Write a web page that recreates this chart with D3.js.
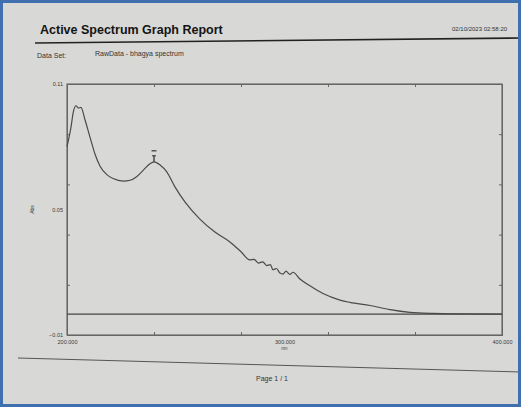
<!DOCTYPE html>
<html>
<head>
<meta charset="utf-8">
<script src="https://cdn.jsdelivr.net/npm/d3@7"></script>
<style>
  html, body { margin: 0; padding: 0; background: #d6d6d4; }
  svg { display: block; }
  .axis path, .axis line { stroke: #666; }
  .axis text { fill: #3a3a3a; font-family: "Liberation Sans", Arial, sans-serif; }
</style>
</head>
<body>
<div id="chart"></div>
<script>
// spectrum (nm / Abs)
var wavelengths = [200, 201.7, 203, 204.1, 205.3, 206.4, 208.3, 210.6, 212.9, 215.2, 218.3, 221.2, 225.9, 229, 232, 235, 238, 240, 242.8, 245.8, 249.7, 254.3, 261.1, 268, 274.9, 280, 284.1, 286, 288, 290, 291.8, 293.5, 294.7, 296.3, 297.9, 299.3, 300.7, 302.5, 303.9, 307.1, 311.7, 317.7, 325.5, 330.1, 339.4, 348.5, 357.7, 368.3, 382, 400];
var absorbance  = [0.080, 0.0885, 0.097, 0.0996, 0.0985, 0.0988, 0.0928, 0.0845, 0.0764, 0.0707, 0.0667, 0.0648, 0.0636, 0.064, 0.0657, 0.0687, 0.0717, 0.0728, 0.0713, 0.0681, 0.0607, 0.0535, 0.0454, 0.0392, 0.0345, 0.0298, 0.0259, 0.0262, 0.0244, 0.0250, 0.0232, 0.0236, 0.0212, 0.0218, 0.0196, 0.0191, 0.0205, 0.019, 0.020, 0.0168, 0.0135, 0.0098, 0.0067, 0.0056, 0.0041, 0.0021, 0.0008, 0.0003, 0.0001, 0.0];

var xMinorTicks = [200, 240, 280, 320, 360, 400];
var xLabelTicks = [200, 300, 400];
var yMinorTicks = [-0.01, 0.014, 0.038, 0.062, 0.086, 0.11];
var yLabelTicks = [-0.01, 0.05, 0.11];
var peakWavelengths = [240];

(function() {
  var W = 521, H = 407;
  var margin = { top: 84, left: 67, right: 19, bottom: 72 },
    width = W - margin.left - margin.right,
    height = H - margin.top - margin.bottom;

  var root = d3.select("#chart").append("svg")
    .attr("width", W)
    .attr("height", H);

  root.append("rect")
    .attr("width", W).attr("height", H)
    .attr("fill", "#d8d8d6");

  // header of the report
  root.append("text")
    .attr("x", 40).attr("y", 34)
    .style("font-family", "Liberation Sans, Arial, sans-serif")
    .style("font-weight", "bold")
    .style("font-size", "12.5px")
    .attr("fill", "#141414")
    .text("Active Spectrum Graph Report");

  root.append("text")
    .attr("x", 452).attr("y", 31)
    .style("font-family", "Liberation Sans, Arial, sans-serif")
    .style("font-size", "6px")
    .attr("fill", "#333")
    .text("02/10/2023  02:58:20");

  root.append("line")
    .attr("x1", 35).attr("y1", 43)
    .attr("x2", W).attr("y2", 38)
    .attr("stroke", "#222").attr("stroke-width", 1.6);

  root.append("text")
    .attr("x", 37).attr("y", 58)
    .style("font-family", "Liberation Sans, Arial, sans-serif")
    .style("font-size", "7px")
    .attr("fill", "#333")
    .text("Data Set:");

  root.append("text")
    .attr("x", 95).attr("y", 56)
    .style("font-family", "Liberation Sans, Arial, sans-serif")
    .style("font-size", "7px")
    .attr("fill", "#333")
    .text("RawData - bhagya spectrum");

  // footer
  root.append("line")
    .attr("x1", 18).attr("y1", 358)
    .attr("x2", W).attr("y2", 372)
    .attr("stroke", "#555").attr("stroke-width", 1);

  root.append("text")
    .attr("x", 256).attr("y", 381)
    .style("font-family", "Liberation Sans, Arial, sans-serif")
    .style("font-size", "7px")
    .attr("fill", "#333")
    .text("Page 1 / 1");

  var svg = root.append("g")
    .attr("transform", "translate(" + margin.left + "," + margin.top + ")");

  var xPositionScale = d3.scaleLinear().domain([200, 400]).range([0, width]);
  var yPositionScale = d3.scaleLinear().domain([-0.01, 0.11]).range([height, 0]);

  // plot frame
  svg.append("rect")
    .attr("width", width).attr("height", height)
    .attr("fill", "none")
    .attr("stroke", "#555")
    .attr("stroke-width", 1);

  // minor ticks, pointing inwards on all four sides
  svg.append("g").attr("class", "axis")
    .attr("transform", "translate(0," + height + ")")
    .call(d3.axisBottom(xPositionScale).tickValues(xMinorTicks).tickSize(-3).tickFormat(""));
  svg.append("g").attr("class", "axis")
    .call(d3.axisTop(xPositionScale).tickValues(xMinorTicks).tickSize(-3).tickFormat(""));
  svg.append("g").attr("class", "axis")
    .call(d3.axisLeft(yPositionScale).tickValues(yMinorTicks).tickSize(-3).tickFormat(""));
  svg.append("g").attr("class", "axis")
    .attr("transform", "translate(" + width + ",0)")
    .call(d3.axisRight(yPositionScale).tickValues(yMinorTicks).tickSize(-3).tickFormat(""));

  // labelled ticks
  var xAxis = svg.append("g").attr("class", "axis")
    .attr("transform", "translate(0," + height + ")")
    .call(d3.axisBottom(xPositionScale).tickValues(xLabelTicks).tickSize(0).tickPadding(5).tickFormat(d3.format(".3f")));
  xAxis.selectAll("text").style("font-size", "5.5px");
  xAxis.select(".domain").remove();

  var yAxis = svg.append("g").attr("class", "axis")
    .call(d3.axisLeft(yPositionScale).tickValues(yLabelTicks).tickSize(0).tickPadding(4).tickFormat(d3.format(".2f")));
  yAxis.selectAll("text").style("font-size", "5.5px");
  yAxis.select(".domain").remove();

  svg.append("text")
    .attr("x", xPositionScale(300)).attr("y", height + 15)
    .attr("text-anchor", "middle")
    .style("font-family", "Liberation Sans, Arial, sans-serif")
    .style("font-size", "4.5px")
    .attr("fill", "#444")
    .text("nm");

  svg.append("text")
    .attr("transform", "translate(-33," + yPositionScale(0.05) + ") rotate(-90)")
    .attr("text-anchor", "middle")
    .style("font-family", "Liberation Sans, Arial, sans-serif")
    .style("font-size", "5px")
    .attr("fill", "#333")
    .text("Abs");

  // zero baseline
  svg.append("line")
    .attr("x1", 0).attr("x2", width)
    .attr("y1", yPositionScale(0)).attr("y2", yPositionScale(0))
    .attr("stroke", "#444").attr("stroke-width", 1.1);

  var points = wavelengths.map(function(w, i) { return { x: w, y: absorbance[i] }; });

  var line = d3.line()
    .x(function(d) { return xPositionScale(d.x) })
    .y(function(d) { return yPositionScale(d.y) })
    .curve(d3.curveMonotoneX);

  svg.append("path")
    .datum(points)
    .attr("d", line)
    .attr("fill", "none")
    .attr("stroke", "#4a4a4a")
    .attr("stroke-width", 1.2);

  // peak marker
  peakWavelengths.forEach(function(p) {
    var i = wavelengths.indexOf(p);
    var px = xPositionScale(p), py = yPositionScale(absorbance[i]);
    svg.append("line")
      .attr("x1", px).attr("x2", px)
      .attr("y1", py).attr("y2", py - 6)
      .attr("stroke", "#333").attr("stroke-width", 1.3);
    svg.append("line")
      .attr("x1", px - 2).attr("x2", px + 2)
      .attr("y1", py - 6).attr("y2", py - 6)
      .attr("stroke", "#333").attr("stroke-width", 1);
    svg.append("line")
      .attr("x1", px - 2.5).attr("x2", px + 2.5)
      .attr("y1", py - 11).attr("y2", py - 11)
      .attr("stroke", "#333").attr("stroke-width", 1.2);
  });

  // blue edge of the photo
  root.append("rect")
    .attr("x", 1.5).attr("y", 1.5)
    .attr("width", W - 3).attr("height", H - 3)
    .attr("fill", "none")
    .attr("stroke", "#3f6fae")
    .attr("stroke-width", 3);
})();
</script>
</body>
</html>
